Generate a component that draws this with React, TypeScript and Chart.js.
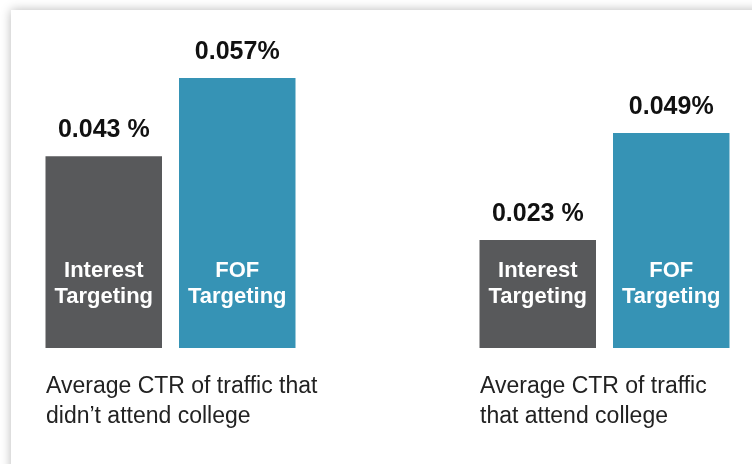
import React, { useEffect, useRef } from "react";
import { Chart, registerables } from "chart.js";

Chart.register(...registerables);

// Categories (caption under each pair of bars)
const categories: string[][] = [
  ["Average CTR of traffic that", "didn\u2019t attend college"],
  ["Average CTR of traffic", "that attend college"],
];

// Bar heights (the infographic is not drawn to scale)
const interestValues = [0.0405, 0.0228];
const fofValues = [0.057, 0.0454];

// Printed value labels
const interestLabels = ["0.043 %", "0.023 %"];
const fofLabels = ["0.057%", "0.049%"];

// Text inside the bars
const seriesNames: string[][] = [
  ["Interest", "Targeting"],
  ["FOF", "Targeting"],
];

const GRAY = "#58595b";
const BLUE = "#3693b5";
const FONT = '"Liberation Sans", Arial, Helvetica, sans-serif';

const valueLabels = [interestLabels, fofLabels];

const labelPlugin = {
  id: "barLabels",
  afterDatasetsDraw(chart: any) {
    const ctx = chart.ctx;
    const base = chart.scales.y.getPixelForValue(0);
    chart.data.datasets.forEach((_ds: any, di: number) => {
      const meta = chart.getDatasetMeta(di);
      meta.data.forEach((bar: any, i: number) => {
        const { x, y } = bar.getProps(["x", "y"], true);
        ctx.save();
        ctx.textAlign = "center";
        ctx.textBaseline = "alphabetic";
        ctx.font = `bold 25px ${FONT}`;
        ctx.fillStyle = "#111111";
        ctx.fillText(valueLabels[di][i], x, y - 19);
        ctx.font = `bold 22px ${FONT}`;
        ctx.fillStyle = "#ffffff";
        seriesNames[di].forEach((line, li) => {
          ctx.fillText(line, x, base - 71 + li * 26);
        });
        ctx.restore();
      });
    });
  },
};

export default function App() {
  const canvasRef = useRef<HTMLCanvasElement | null>(null);

  useEffect(() => {
    document.body.style.margin = "0";
    document.body.style.overflow = "hidden";
    const canvas = canvasRef.current;
    if (!canvas) return;
    const chart = new Chart(canvas, {
      type: "bar",
      data: {
        labels: categories,
        datasets: [
          {
            label: seriesNames[0].join(" "),
            data: interestValues,
            backgroundColor: GRAY,
            clip: false as any,
          },
          {
            label: seriesNames[1].join(" "),
            data: fofValues,
            backgroundColor: BLUE,
            clip: false as any,
          },
        ],
      },
      options: {
        responsive: false,
        animation: false,
        categoryPercentage: 267 / 434,
        barPercentage: 116.5 / 133.5,
        layout: {
          padding: { top: 78, left: 170.5, right: 147.5, bottom: 0 },
        },
        plugins: {
          legend: { display: false },
          tooltip: { enabled: false },
        },
        scales: {
          x: {
            offset: false,
            grid: { display: false, drawTicks: false },
            border: { display: false },
            afterFit: (scale: any) => {
              scale.paddingLeft = 0;
              scale.paddingRight = 0;
              scale.height = 116;
            },
            ticks: {
              align: "start",
              labelOffset: -124.5,
              padding: 24,
              color: "#222222",
              font: { family: FONT, size: 23, weight: "normal", lineHeight: 1.3 },
              maxRotation: 0,
              autoSkip: false,
            },
          },
          y: {
            display: false,
            min: 0,
            max: 0.057,
          },
        },
      } as any,
      plugins: [labelPlugin],
    });
    return () => chart.destroy();
  }, []);

  return (
    <div
      style={{
        position: "relative",
        width: 752,
        height: 464,
        background: "#ffffff",
        overflow: "hidden",
      }}
    >
      <div
        style={{
          position: "absolute",
          left: 11,
          top: 10,
          width: 800,
          height: 520,
          background: "#ffffff",
          boxShadow: "0 0 10px rgba(0,0,0,0.28)",
        }}
      />
      <canvas
        ref={canvasRef}
        width={752}
        height={464}
        style={{ position: "absolute", left: 0, top: 0, width: 752, height: 464 }}
      />
    </div>
  );
}
